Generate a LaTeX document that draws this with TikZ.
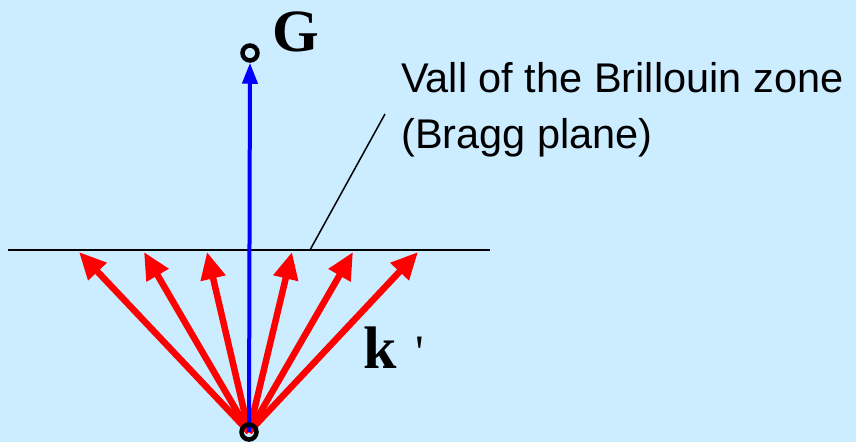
\documentclass[tikz,border=0pt]{standalone}
\usepackage{fontspec}
\setmainfont{Liberation Serif}
\newfontfamily\arialf{Liberation Sans}
\newfontfamily\plainserif{Liberation Serif}[Ligatures=TeXOff]
\usetikzlibrary{arrows.meta}
\definecolor{bgblue}{RGB}{204,236,255}
\tikzset{
  redarrow/.style={draw=red,line width=6.5pt,-{Triangle[length=27pt,width=24pt]}},
  bluearrow/.style={draw=blue,line width=4pt,-{Triangle[length=21pt,width=15pt]}},
  ring/.style={circle,draw=black,line width=4.5pt,minimum size=15pt,inner sep=0pt},
  plane/.style={draw=black,line width=1.5pt},
  bigbold/.style={inner sep=0pt,anchor=base west,font=\fontsize{60}{60}\selectfont\bfseries},
  label/.style={inner sep=0pt,anchor=base west,font=\arialf\fontsize{41.5}{56}\selectfont}
}
\begin{document}
\begin{tikzpicture}[x=1pt,y=-1pt]
\fill[bgblue] (0,0) rectangle (856,442);
\useasboundingbox (0,0) rectangle (856,442);
% plane
\coordinate (pl) at (8,250);
\coordinate (pr) at (490,250);
\draw[plane] (pl) -- (pr);
% origin and G
\coordinate (O) at (249,432);
\node[ring] (gc) at (250,53) {};
% tips
\coordinate (t1) at (79,252);
\coordinate (t2) at (144,252);
\coordinate (t3) at (207,252);
\coordinate (t4) at (292,252);
\coordinate (t5) at (353,252);
\coordinate (t6) at (418,252);
\foreach \t in {t1,t2,t3,t4,t5,t6} \draw[redarrow] (O) -- (\t);
\draw[bluearrow] (O) -- (gc);
\node[ring] (oc) at (O) {};
% leader line
\coordinate (la) at (310,250);
\coordinate (lb) at (385,114);
\draw[draw=black,line width=1.5pt] (la) -- (lb);
% labels
\node[bigbold] (G) at (272,51) {G};
\node[bigbold] (k) at (363,368) {k\hspace{19pt}{\plainserif\mdseries\fontsize{48}{48}\selectfont '}};
\node[label] (wall1) at (401,92) {Vall of the Brillouin zone};
\node[label] (wall2) at (401,148) {(Bragg plane)};
\end{tikzpicture}
\end{document}
